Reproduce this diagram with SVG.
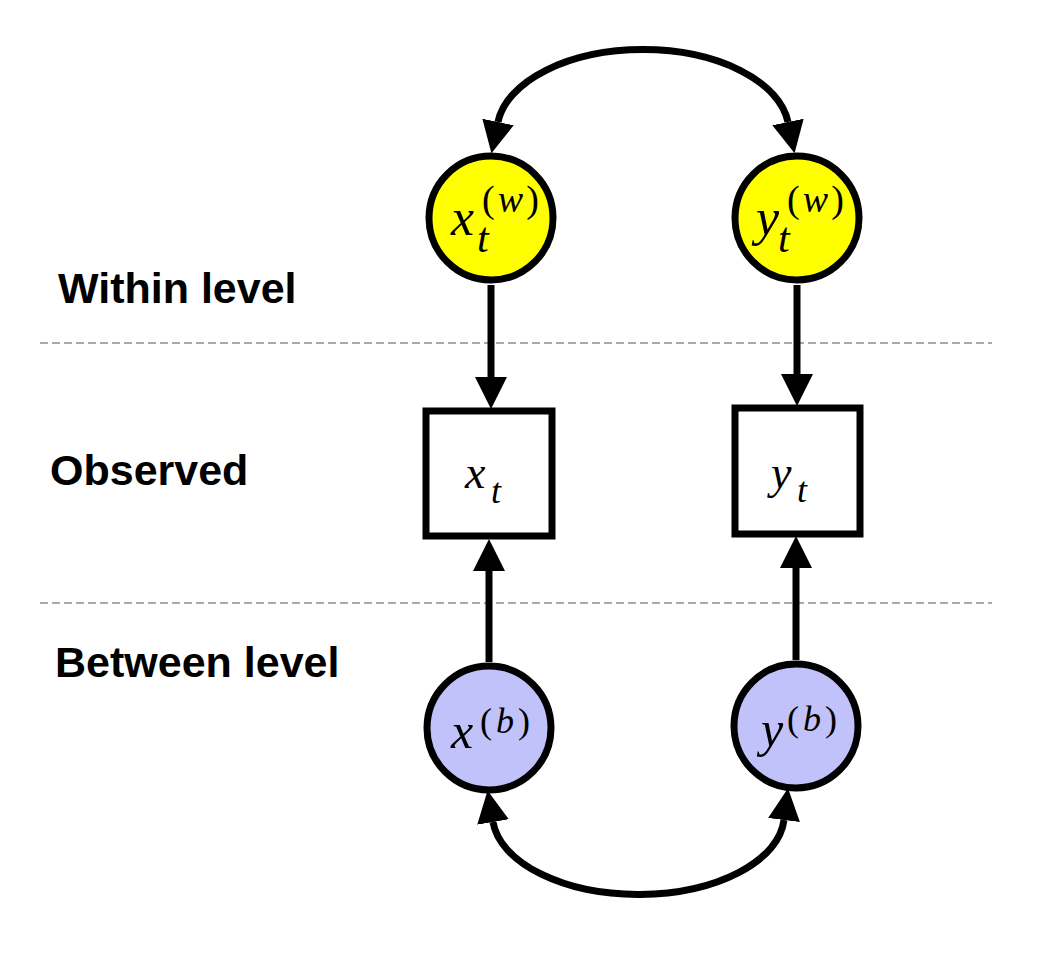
<svg xmlns="http://www.w3.org/2000/svg" width="1044" height="963" viewBox="0 0 1044 963">
<style>
.lbl{font-family:"Liberation Sans",Arial,sans-serif;font-weight:bold;font-size:43px;fill:#000}
.m{font-family:"Liberation Serif","Times New Roman",serif;font-style:italic;fill:#000}
.p{font-style:normal}
.node{stroke:#000;stroke-width:7}
.edge{fill:none;stroke:#000;stroke-width:7}
.dash{stroke:#555;stroke-width:1.2;stroke-dasharray:8 4}
</style>
<defs>
<marker id="ah" markerUnits="userSpaceOnUse" markerWidth="32" markerHeight="34" refX="0" refY="16" orient="auto-start-reverse" viewBox="0 0 32 32">
<path d="M0,0 L32,16 L0,32 Z" fill="#000"/>
</marker>
</defs>
<rect width="1044" height="963" fill="#fff"/>
<g id="dividers">
<line class="dash" x1="40" y1="343" x2="992" y2="343"/>
<line class="dash" x1="40" y1="603" x2="992" y2="603"/>
</g>
<g id="labels">
<text class="lbl" x="58" y="303">Within level</text>
<text class="lbl" x="50" y="485">Observed</text>
<text class="lbl" x="55" y="677">Between level</text>
</g>
<g id="connectors">
<path class="edge" d="M498,122 A146,82 0 0 1 788,122" marker-start="url(#ah)" marker-end="url(#ah)"/>
<path class="edge" d="M493,822 A146,80 0 0 0 784,820" marker-start="url(#ah)" marker-end="url(#ah)"/>
<path class="edge" d="M491,285 L491,377" marker-end="url(#ah)"/>
<path class="edge" d="M797,285 L797,374" marker-end="url(#ah)"/>
<path class="edge" d="M489,662 L489,571" marker-end="url(#ah)"/>
<path class="edge" d="M796,660 L796,568" marker-end="url(#ah)"/>
</g>
<g id="xw">
<circle class="node" cx="491" cy="218" r="62" fill="#FFFF00"/>
<text class="m"><tspan x="451" y="235" font-size="52">x</tspan><tspan x="477" y="252" font-size="42">t</tspan><tspan x="482" y="212" font-size="38" textLength="57"><tspan class="p">(</tspan>w<tspan class="p">)</tspan></tspan></text>
</g>
<g id="yw">
<circle class="node" cx="797" cy="218" r="62" fill="#FFFF00"/>
<text class="m"><tspan x="756" y="235" font-size="52">y</tspan><tspan x="778" y="252" font-size="42">t</tspan><tspan x="787" y="212" font-size="38" textLength="57"><tspan class="p">(</tspan>w<tspan class="p">)</tspan></tspan></text>
</g>
<g id="xt">
<rect class="node" x="426" y="411" width="126" height="125" fill="#fff"/>
<text class="m"><tspan x="465" y="488" font-size="46">x</tspan><tspan x="491" y="503" font-size="36">t</tspan></text>
</g>
<g id="yt">
<rect class="node" x="735" y="408" width="125" height="126" fill="#fff"/>
<text class="m"><tspan x="771" y="488" font-size="46">y</tspan><tspan x="797" y="502" font-size="36">t</tspan></text>
</g>
<g id="xb">
<circle class="node" cx="489" cy="728" r="62" fill="#C2C2FA"/>
<text class="m"><tspan x="451" y="748" font-size="50">x</tspan><tspan x="480" y="733" font-size="36" textLength="50"><tspan class="p">(</tspan>b<tspan class="p">)</tspan></tspan></text>
</g>
<g id="yb">
<circle class="node" cx="796" cy="726" r="62" fill="#C2C2FA"/>
<text class="m"><tspan x="761" y="746" font-size="50">y</tspan><tspan x="787" y="731" font-size="36" textLength="50"><tspan class="p">(</tspan>b<tspan class="p">)</tspan></tspan></text>
</g>
</svg>
